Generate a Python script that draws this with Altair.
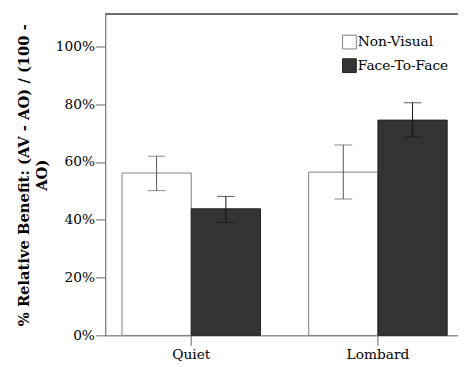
import altair as alt
import pandas as pd

conditions = ["Quiet", "Quiet", "Lombard", "Lombard"]
groups = ["Non-Visual", "Face-To-Face", "Non-Visual", "Face-To-Face"]
values = [0.562, 0.438, 0.565, 0.745]
lower = [0.501, 0.391, 0.472, 0.687]
upper = [0.620, 0.481, 0.659, 0.805]

cond_order = ["Quiet", "Lombard"]
group_order = ["Non-Visual", "Face-To-Face"]

df = pd.DataFrame({"Condition": conditions, "Group": groups, "Value": values,
                   "Lower": lower, "Upper": upper})

FONT = "DejaVu Serif"
W, H = 359, 327

x = alt.X("Condition:N", sort=cond_order, title=None,
          scale=alt.Scale(paddingInner=0.258, paddingOuter=0.0737, align=0.607),
          axis=alt.Axis(labelAngle=0, labelFontSize=14, labelFont=FONT, labelColor="black",
                        domainColor="#666666", tickColor="#666666", tickSize=10,
                        labelPadding=3, domainWidth=1))
xo = alt.XOffset("Group:N", sort=group_order,
                 scale=alt.Scale(paddingInner=0, paddingOuter=0))
yscale = alt.Scale(domain=[0, 1.112], nice=False)

bars = alt.Chart(df).mark_bar(strokeWidth=1).encode(
    x=x, xOffset=xo,
    y=alt.Y("Value:Q", scale=yscale,
            title=["% Relative Benefit: (AV - AO) / (100 -", "AO)"],
            axis=alt.Axis(values=[0, 0.2, 0.4, 0.6, 0.8, 1.0], format=".0%", grid=False,
                          labelFontSize=14, labelFont=FONT, labelColor="black",
                          domainColor="#666666", tickColor="#666666", tickSize=10,
                          labelPadding=1, titleFont=FONT, titleFontSize=15,
                          titleFontWeight="bold", titleColor="black", titleLineHeight=18,
                          titlePadding=6)),
    fill=alt.Fill("Group:N", sort=group_order,
                  scale=alt.Scale(domain=group_order, range=["white", "#333333"]),
                  legend=alt.Legend(title=None, orient="none", legendX=241, legendY=21,
                                    symbolType="square", symbolSize=196, padding=0,
                                    labelFont=FONT, labelFontSize=14, labelColor="black",
                                    rowPadding=5, labelOffset=1, symbolStrokeWidth=1)),
    stroke=alt.Stroke("Group:N", sort=group_order,
                      scale=alt.Scale(domain=group_order, range=["#808080", "#222222"]),
                      legend=None),
)

ecolor = alt.Color("Group:N", sort=group_order,
                   scale=alt.Scale(domain=group_order, range=["#555555", "#111111"]),
                   legend=None)
err = alt.Chart(df).mark_rule(strokeWidth=1).encode(
    x=x, xOffset=xo,
    y=alt.Y("Lower:Q", scale=yscale), y2="Upper:Q", color=ecolor)
cap_lo = alt.Chart(df).mark_tick(size=18, thickness=1).encode(
    x=x, xOffset=xo, y=alt.Y("Lower:Q", scale=yscale), color=ecolor)
cap_hi = alt.Chart(df).mark_tick(size=18, thickness=1).encode(
    x=x, xOffset=xo, y=alt.Y("Upper:Q", scale=yscale), color=ecolor)
top = alt.Chart(df).mark_rule(color="#666666", strokeWidth=1).encode(
    x=alt.value(0), x2=alt.value(W), y=alt.value(0))

chart = alt.layer(bars, err, cap_lo, cap_hi, top).properties(
    width=W, height=H,
    autosize=alt.AutoSizeParams(type="none"),
    padding={"left": 99, "top": 3, "right": 0, "bottom": 28}
).configure_view(stroke=None).configure(background="white", font=FONT)

chart.save("out.html", embed_options={"renderer": "svg", "actions": False})
